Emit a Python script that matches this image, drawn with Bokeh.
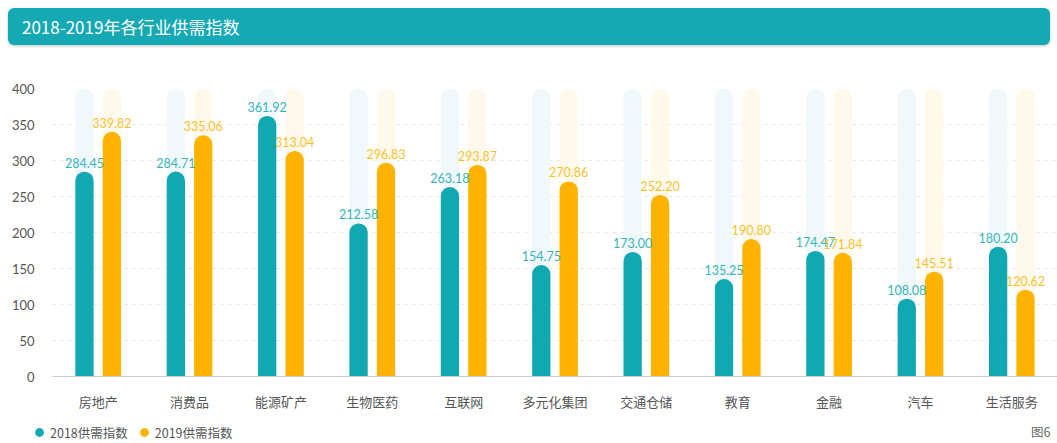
from bokeh.plotting import figure
from bokeh.models import (ColumnDataSource, Legend, LegendItem, Label, Div,
                          FactorRange, Range1d, FixedTicker)
from bokeh.transform import dodge
from bokeh.embed import file_html
from bokeh.resources import INLINE
from bokeh.core.properties import value

# ---- data ----
categories = ["房地产", "消费品", "能源矿产", "生物医药", "互联网", "多元化集团",
              "交通仓储", "教育", "金融", "汽车", "生活服务"]
idx2018 = [284.45, 284.71, 361.92, 212.58, 263.18, 154.75, 173.00, 135.25, 174.47, 108.08, 180.20]
idx2019 = [339.82, 335.06, 313.04, 296.83, 293.87, 270.86, 252.20, 190.80, 171.84, 145.51, 120.62]
y_ticks = [0, 50, 100, 150, 200, 250, 300, 350, 400]
y_max = 400
series_names = ["2018供需指数", "2019供需指数"]
title_text = "2018-2019年各行业供需指数"
figure_note = "图6"

TEAL = "#12a8b1"
ORANGE = "#fdb300"
TEAL_LBL = "#35b5b8"
ORANGE_LBL = "#f6c12f"
CJK = "Noto Sans CJK SC"

src = ColumnDataSource(dict(
    cat=categories,
    v18=idx2018,
    v19=idx2019,
    t18=[f"{v:.2f}" for v in idx2018],
    t19=[f"{v:.2f}" for v in idx2019],
    bg=[y_max] * len(categories),
))

p = figure(x_range=FactorRange(*categories, range_padding=0),
           y_range=Range1d(0, y_max),
           width=1057, height=363,
           output_backend="svg", toolbar_location=None,
           min_border_left=52, min_border_right=0,
           min_border_top=38, min_border_bottom=34)
p.outline_line_color = None
p.background_fill_color = "white"
p.border_fill_color = "white"

off = 0.15
bw = 0.2
# pale background columns
p.vbar(x=dodge("cat", -off, range=p.x_range), top="bg", width=bw, source=src,
       fill_color="#f0f8fb", line_color=None, border_radius=(9, 9, 0, 0))
p.vbar(x=dodge("cat", off, range=p.x_range), top="bg", width=bw, source=src,
       fill_color="#fff9eb", line_color=None, border_radius=(9, 9, 0, 0))

r18 = p.vbar(x=dodge("cat", -off, range=p.x_range), top="v18", width=bw, source=src,
             fill_color=TEAL, line_color=None, border_radius=(9, 9, 0, 0))
r19 = p.vbar(x=dodge("cat", off, range=p.x_range), top="v19", width=bw, source=src,
             fill_color=ORANGE, line_color=None, border_radius=(9, 9, 0, 0))

p.text(x=dodge("cat", -off, range=p.x_range), y="v18", text="t18", source=src,
       text_align="center", text_baseline="bottom", y_offset=-4,
       text_color=TEAL_LBL, text_font=value("Lato"), text_font_size="12.5px")
p.text(x=dodge("cat", off, range=p.x_range), y="v19", text="t19", source=src,
       text_align="center", text_baseline="bottom", y_offset=-4,
       text_color=ORANGE_LBL, text_font=value("Lato"), text_font_size="12.5px")

# axes
p.yaxis.ticker = FixedTicker(ticks=y_ticks)
p.yaxis.axis_line_color = None
p.yaxis.major_tick_line_color = None
p.yaxis.minor_tick_line_color = None
p.yaxis.major_label_standoff = 12
p.yaxis.major_label_text_font = "Lato"
p.yaxis.major_label_text_font_size = "13px"
p.yaxis.major_label_text_color = "#555555"

p.xaxis.axis_line_color = "#cccccc"
p.xaxis.major_tick_line_color = None
p.xaxis.minor_tick_line_color = None
p.xaxis.major_label_standoff = 9
p.xaxis.major_label_text_font = CJK
p.xaxis.major_label_text_font_size = "13px"
p.xaxis.major_label_text_color = "#555555"

p.xgrid.grid_line_color = None
p.ygrid.grid_line_color = "#e8e8e8"
p.ygrid.grid_line_dash = "4 4"

# ---- legend strip (separate small figure, its own root so frames are not aligned) ----
q = figure(width=1057, height=30, x_range=Range1d(0, 1), y_range=Range1d(0, 1),
           x_axis_type=None, y_axis_type=None,
           output_backend="svg", toolbar_location=None,
           min_border=0, min_border_left=0, min_border_right=0,
           min_border_top=0, min_border_bottom=0)
q.outline_line_color = None
q.border_fill_color = "white"
q.background_fill_color = "white"
# hidden proxy renderers that only supply the legend swatches
l18 = q.scatter(x=[0], y=[0], marker="circle", size=9, fill_color=TEAL, line_color=None, visible=False)
l19 = q.scatter(x=[0], y=[0], marker="circle", size=9, fill_color=ORANGE, line_color=None, visible=False)
legend = Legend(items=[LegendItem(label=series_names[0], renderers=[l18], index=0),
                       LegendItem(label=series_names[1], renderers=[l19], index=0)],
                orientation="horizontal", location=(28, 0),
                glyph_width=22, glyph_height=22, label_height=22,
                label_standoff=0, spacing=5, padding=0, margin=0,
                border_line_color=None, background_fill_alpha=0,
                label_text_font=CJK, label_text_font_size="12.5px",
                label_text_color="#555555")
q.add_layout(legend, "center")
q.add_layout(Label(x=1050, y=12, x_units="screen", y_units="screen",
                   text=figure_note, text_align="right", text_baseline="middle",
                   text_font=CJK, text_font_size="12.5px", text_color="#666666"))

title = Div(text=(f'<div style="box-sizing:border-box;width:1042px;margin:8px 7px 0 8px;'
                  f'height:37px;background:#14a9b3;'
                  f'border-radius:6px;box-shadow:0 1px 3px rgba(0,0,0,0.25);'
                  f'line-height:37px;padding-left:14px;color:#ffffff;'
                  f'font-family:\'{CJK}\';font-size:17px;font-weight:400;">{title_text}</div>'),
            width=1057, height=50, margin=0)

open("out.html", "w").write(file_html([title, p, q], INLINE))
